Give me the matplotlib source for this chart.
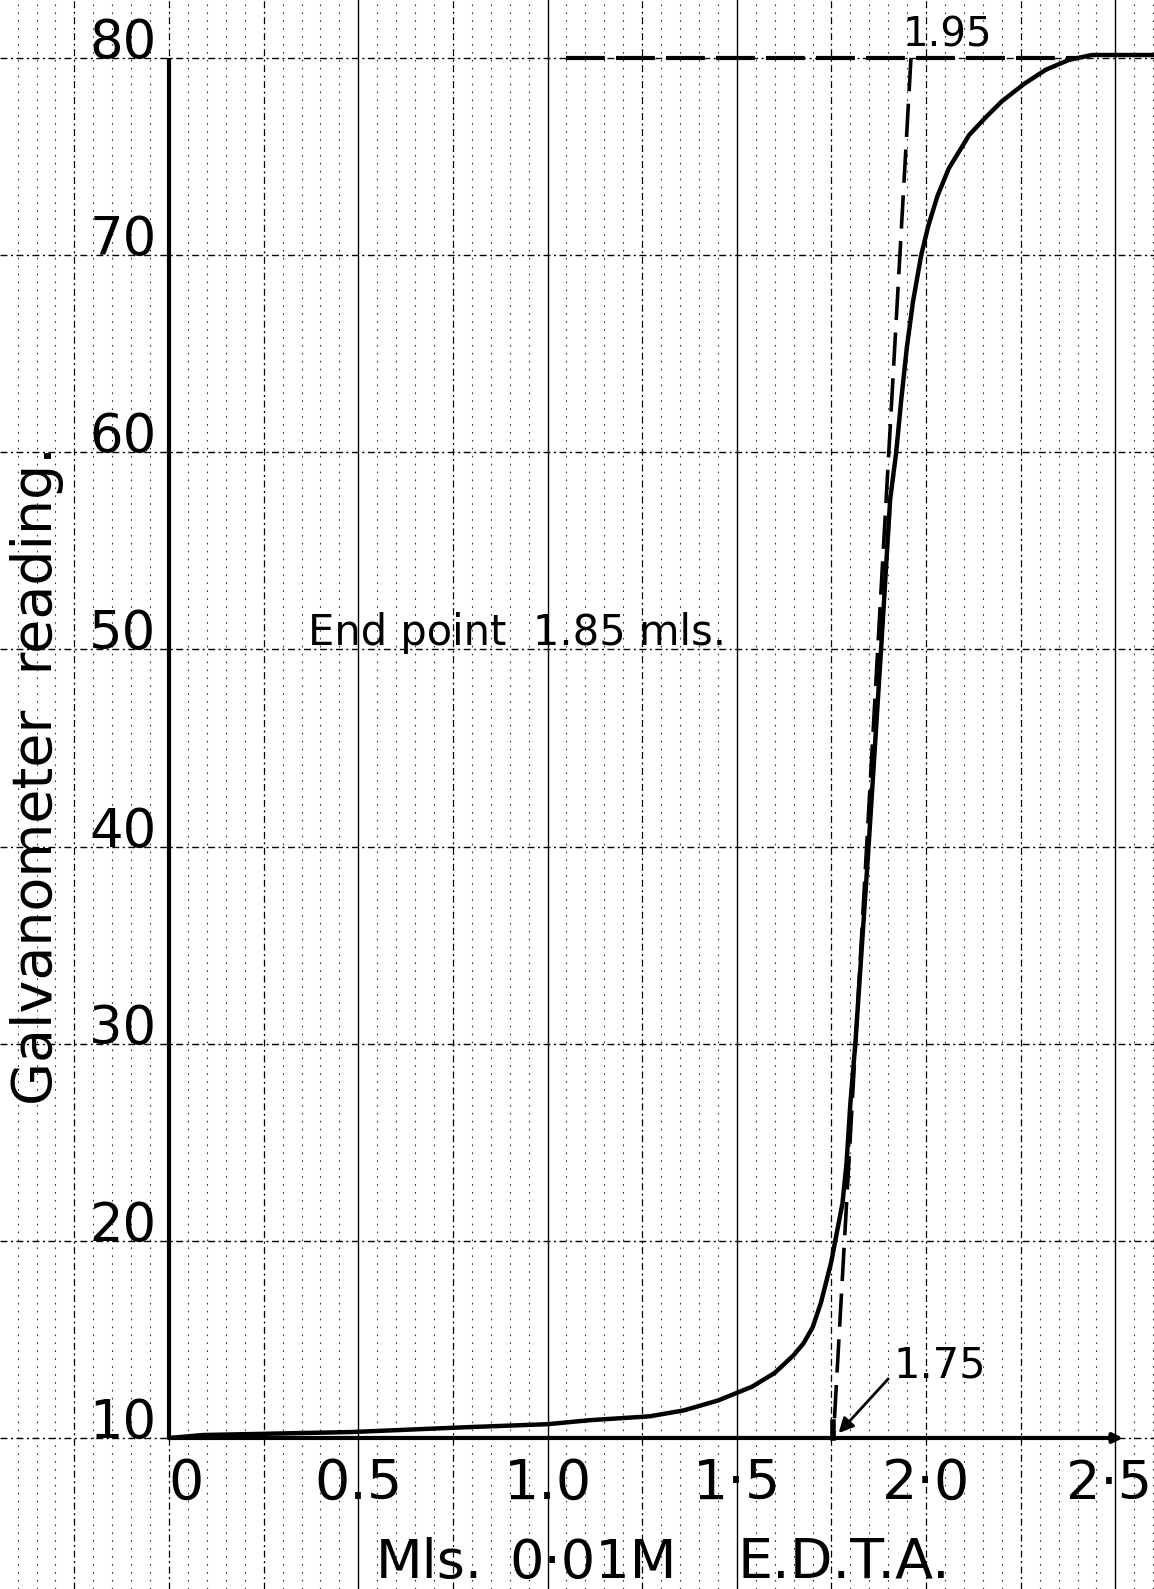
import numpy as np
import matplotlib
matplotlib.use('Agg')
from matplotlib import pyplot as plt

plt.rcParams['font.family'] = ['DejaVu Sans']
plt.rcParams['lines.scale_dashes'] = False

# Titration curve
edta_ml = [0.0, 0.09, 0.48, 0.79, 1.0, 1.11, 1.27, 1.36, 1.45, 1.54, 1.60,
           1.65, 1.676, 1.70, 1.722, 1.749, 1.762, 1.779, 1.79, 1.80, 1.813,
           1.848, 1.881, 1.905, 1.921, 1.934, 1.949, 1.965, 1.987, 2.006,
           2.03, 2.06, 2.114, 2.158, 2.20, 2.26, 2.316, 2.377, 2.438, 2.60]
galv = [10.0, 10.15, 10.3, 10.55, 10.7, 10.9, 11.1, 11.4, 11.9, 12.6, 13.3,
        14.2, 14.8, 15.6, 16.85, 18.9, 20.2, 21.9, 24.0, 27.0, 30.0,
        40.0, 50.0, 57.6, 60.0, 62.6, 65.3, 67.6, 70.0, 71.5,
        73.0, 74.4, 76.1, 77.0, 77.8, 78.7, 79.4, 79.9, 80.15, 80.15]

# Extrapolation construction
plateau_x = [1.05, 2.40]
plateau_y = [80, 80]
tangent_x = [1.96, 1.755]
tangent_y = [80, 10]

x_ticks = [0, 0.5, 1.0, 1.5, 2.0, 2.5]
x_tick_labels = ['0', '0.5', '1.0', '1·5', '2·0', '2·5']
y_ticks = [10, 20, 30, 40, 50, 60, 70, 80]

fig = plt.figure(figsize=(11.54, 15.89), dpi=100)
ax = fig.add_axes([0, 0, 1, 1])
ax.set_xlim(-0.4465, 2.602)
ax.set_ylim(2.34, 82.94)
ax.axis('off')

# Graph paper: fine vertical rulings every 0.05, heavier every 0.25 / 0.5
solid_x = [0.5, 1.0, 1.5, 2.5]
for k in range(-9, 53):
    x = round(k * 0.05, 2)
    if x in solid_x:
        ax.axvline(x, color='k', lw=1.0, zorder=1)
    elif k % 5 == 0:
        ax.axvline(x, color='k', lw=0.9, ls=(0, (5, 2.5, 1.5, 2.5)), zorder=1)
    else:
        ax.axvline(x, color='k', lw=0.8, ls=(0, (1.2, 4.5)), alpha=0.8, zorder=1)

for y in y_ticks:
    ax.axhline(y, color='k', lw=1.0, ls=(0, (5, 2.5, 1.5, 2.5)), zorder=1)

# Axes drawn by hand
ax.plot([0, 0], [10, 80], color='k', lw=3.0, solid_capstyle='butt', zorder=3)
ax.annotate('', xy=(2.52, 10), xytext=(0, 10),
            arrowprops=dict(arrowstyle='-|>', color='k', lw=3.0,
                            mutation_scale=14, shrinkA=0, shrinkB=0),
            zorder=3)

# Curve
ax.plot(edta_ml, galv, color='k', lw=3.2, solid_capstyle='round',
        solid_joinstyle='round', zorder=4)

# Dashed construction lines
ax.plot(plateau_x, plateau_y, color='k', lw=3.0, ls=(0, (28, 8)), zorder=3)
ax.plot(tangent_x, tangent_y, color='k', lw=2.6, ls=(0, (24, 9)), zorder=3)
ax.plot([1.755, 1.755], [10, 10.8], color='k', lw=4, zorder=4)

# Tick labels
for y in y_ticks:
    ax.text(-0.033, y, str(y), ha='right', va='baseline', fontsize=38)
for x, lab in zip(x_ticks, x_tick_labels):
    if x == 0:
        ax.text(0.045, 6.9, lab, ha='center', va='baseline', fontsize=40)
    elif x == 2.5:
        ax.text(2.598, 6.9, lab, ha='right', va='baseline', fontsize=39)
    else:
        ax.text(x, 6.9, lab, ha='center', va='baseline', fontsize=40)

# Axis labels
ax.text(-0.348, 43.6, 'Galvanometer  reading.', rotation=90,
        ha='center', va='center', fontsize=40)
ax.text(0.545, 2.9, 'Mls.', ha='left', va='baseline', fontsize=39)
ax.text(0.90, 2.9, '0·01M', ha='left', va='baseline', fontsize=39)
ax.text(1.503, 2.9, 'E.D.T.A.', ha='left', va='baseline', fontsize=40)

# Annotations
ax.text(0.367, 50.2, 'End point  1.85 mls.', ha='left', va='baseline',
        fontsize=30)
ax.text(1.937, 80.6, '1.95', ha='left', va='baseline', fontsize=29)
ax.text(1.914, 13.05, '1.75', ha='left', va='baseline', fontsize=30)
ax.annotate('', xy=(1.769, 10.25), xytext=(1.90, 13.0),
            arrowprops=dict(arrowstyle='-|>', color='k', lw=2.0,
                            mutation_scale=22, shrinkA=0, shrinkB=0),
            zorder=5)

fig.savefig('out.png', dpi=100, facecolor='white')
